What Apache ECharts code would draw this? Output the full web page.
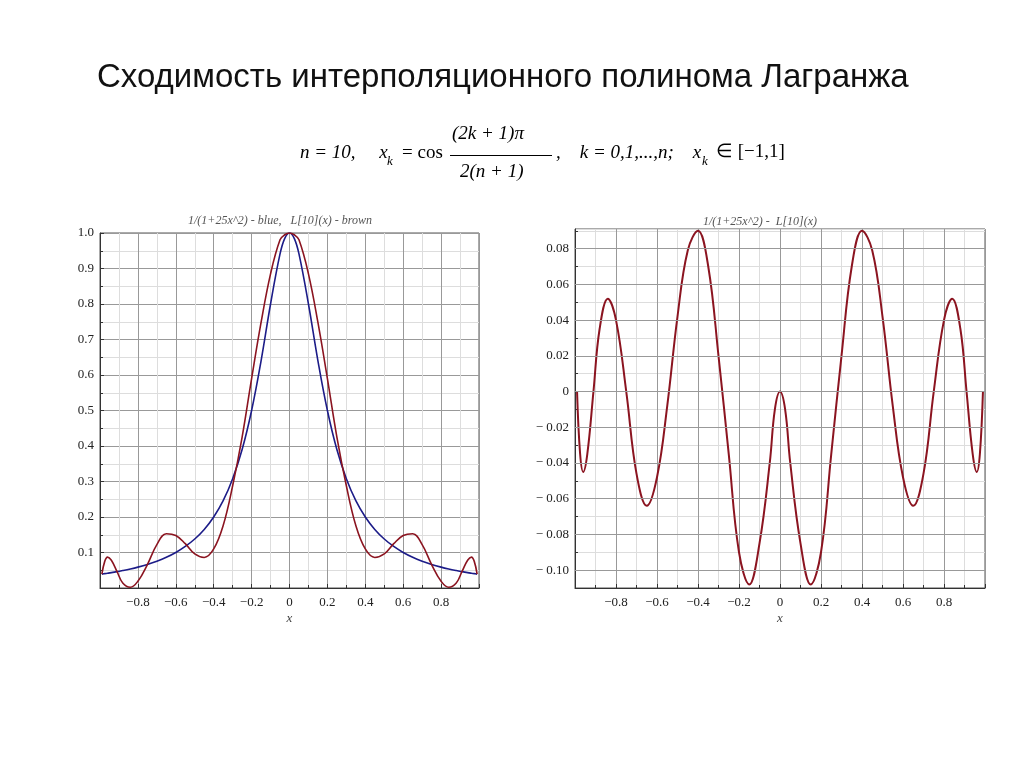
<!DOCTYPE html>
<html><head><meta charset="utf-8">
<script src="https://cdn.jsdelivr.net/npm/echarts@6/dist/echarts.min.js"></script>
<style>html,body{margin:0;background:#fff}#c{width:1024px;height:767px}</style>
</head><body><div id="c"></div>
<script>
// x >= 0 half, curves are symmetric
var xs = [0, 0.025, 0.05, 0.1, 0.15, 0.2, 0.25, 0.3, 0.35, 0.4, 0.45, 0.5, 0.55, 0.6, 0.65, 0.7, 0.75, 0.8, 0.84, 0.88, 0.91, 0.94, 0.96, 0.975, 0.99];
var runge = [1, 0.985, 0.941, 0.8, 0.64, 0.5, 0.39, 0.308, 0.246, 0.2, 0.165, 0.138, 0.117, 0.1, 0.0865, 0.0755, 0.0664, 0.0588, 0.0536, 0.0491, 0.0461, 0.0433, 0.0416, 0.0404, 0.0392];
var lagr = [1, 0.995, 0.981, 0.885, 0.748, 0.59, 0.425, 0.288, 0.176, 0.11, 0.086, 0.096, 0.125, 0.148, 0.153, 0.122, 0.066, 0.019, 0.002, 0.014, 0.046, 0.078, 0.087, 0.075, 0.039];
var err = [0, -0.01, -0.04, -0.085, -0.108, -0.09, -0.035, 0.02, 0.07, 0.09, 0.079, 0.042, -0.008, -0.048, -0.064, -0.046, 0, 0.04, 0.052, 0.035, 0, -0.035, -0.045, -0.035, 0];
var errTicks = [-0.1, -0.08, -0.06, -0.04, -0.02, 0, 0.02, 0.04, 0.06, 0.08];

function both(vals) {
  var out = [];
  for (var i = xs.length - 1; i > 0; i--) out.push([-xs[i], vals[i]]);
  for (var j = 0; j < xs.length; j++) out.push([xs[j], vals[j]]);
  return out;
}

var chart = echarts.init(document.getElementById('c'));
var lblFont = { fontFamily: 'Liberation Serif', fontSize: 13, color: '#222' };
var red = '#8b1420', blue = '#1c1c88';

function xAx(gi) {
  return {
    type: 'value', gridIndex: gi, min: -1, max: 1, interval: 0.2,
    name: 'x', nameLocation: 'middle', nameGap: 24,
    nameTextStyle: { fontFamily: 'Liberation Serif', fontStyle: 'italic', fontSize: 13, color: '#444' },
    axisLine: { onZero: false, lineStyle: { color: '#333' } },
    axisTick: { inside: true, length: 4, lineStyle: { color: '#333' } },
    minorTick: { show: true, splitNumber: 2, length: 3 },
    splitLine: { show: true, lineStyle: { color: '#999' } },
    minorSplitLine: { show: true, lineStyle: { color: '#ddd' } },
    axisLabel: Object.assign({ margin: 8, formatter: function (v) {
      if (Math.abs(v) > 0.99) return '';
      return v === 0 ? '0' : (v < 0 ? '\u2212' + Math.abs(v).toFixed(1) : v.toFixed(1));
    } }, lblFont)
  };
}

chart.setOption({
  animation: false,
  title: [
    { text: 'Сходимость интерполяционного полинома Лагранжа', left: 92, top: 56,
      textStyle: { fontFamily: 'Liberation Sans', fontSize: 33, fontWeight: 'normal', color: '#111' } },
    { text: '1/(1+25x^2) - blue,   L[10](x) - brown', left: 275, top: 210, textAlign: 'center',
      textStyle: { fontFamily: 'Liberation Serif', fontStyle: 'italic', fontSize: 12, fontWeight: 'normal', color: '#555' } },
    { text: '1/(1+25x^2) -  L[10](x)', left: 755, top: 211, textAlign: 'center',
      textStyle: { fontFamily: 'Liberation Serif', fontStyle: 'italic', fontSize: 12, fontWeight: 'normal', color: '#555' } }
  ],
  graphic: [
    { type: 'text', left: 300, top: 143, style: { text: 'n = 10,     x', font: 'italic 19px Liberation Serif', fill: '#000' } },
    { type: 'text', left: 387, top: 155, style: { text: 'k', font: 'italic 13px Liberation Serif', fill: '#000' } },
    { type: 'text', left: 402, top: 144, style: { text: '= cos', font: '19px Liberation Serif', fill: '#000' } },
    { type: 'text', left: 452, top: 124, style: { text: '(2k + 1)\u03c0', font: 'italic 19px Liberation Serif', fill: '#000' } },
    { type: 'rect', shape: { x: 450, y: 155, width: 102, height: 1 }, style: { fill: '#000' } },
    { type: 'text', left: 460, top: 162, style: { text: '2(n + 1)', font: 'italic 19px Liberation Serif', fill: '#000' } },
    { type: 'text', left: 556, top: 143, style: { text: ',    k = 0,1,...,n;    x', font: 'italic 19px Liberation Serif', fill: '#000' } },
    { type: 'text', left: 702, top: 155, style: { text: 'k', font: 'italic 13px Liberation Serif', fill: '#000' } },
    { type: 'text', left: 716, top: 143, style: { text: '\u2208 [\u22121,1]', font: '19px Liberation Serif', fill: '#000' } }
  ],
  grid: [
    { left: 100, top: 233, width: 379, height: 355, show: true, borderColor: '#555' },
    { left: 575, top: 229, width: 410, height: 359, show: true, borderColor: '#555' }
  ],
  xAxis: [xAx(0), xAx(1)],
  yAxis: [
    { type: 'value', gridIndex: 0, min: 0, max: 1, interval: 0.1,
      axisLine: { show: true, onZero: false, lineStyle: { color: '#333' } },
      axisTick: { inside: true, length: 4, lineStyle: { color: '#333' } },
      minorTick: { show: true, splitNumber: 2, length: 3 },
      splitLine: { lineStyle: { color: '#999' } },
      minorSplitLine: { show: true, lineStyle: { color: '#ddd' } },
      axisLabel: Object.assign({ margin: 6, formatter: function (v) { return v === 0 ? '' : v.toFixed(1); } }, lblFont) },
    { type: 'value', gridIndex: 1, min: -0.11, max: 0.091, interval: 0.01,
      axisLine: { show: true, onZero: false, lineStyle: { color: '#333' } },
      axisTick: { inside: true, length: 3, lineStyle: { color: '#333' } },
      splitLine: { lineStyle: { color: '#ddd' } },
      axisLabel: Object.assign({ margin: 6, showMaxLabel: false, formatter: function (v) {
        var n = Math.round(v * 100);
        if (n % 2 !== 0) return '';
        if (n === 0) return '0';
        return n < 0 ? '\u2212 ' + Math.abs(v).toFixed(2) : v.toFixed(2);
      } }, lblFont) }
  ],
  series: [
    { type: 'line', xAxisIndex: 0, yAxisIndex: 0, data: both(runge), smooth: 0.4, showSymbol: false,
      lineStyle: { color: blue, width: 1.6 } },
    { type: 'line', xAxisIndex: 0, yAxisIndex: 0, data: both(lagr), smooth: 0.4, showSymbol: false,
      lineStyle: { color: red, width: 1.6 } },
    { type: 'line', xAxisIndex: 1, yAxisIndex: 1, data: both(err), smooth: 0.4, showSymbol: false,
      lineStyle: { color: red, width: 2 },
      markLine: { silent: true, symbol: 'none', label: { show: false },
        lineStyle: { color: '#999', type: 'solid', width: 1 },
        data: errTicks.map(function (t) { return { yAxis: t }; }) },
      z: 3 }
  ]
});
</script></body></html>
